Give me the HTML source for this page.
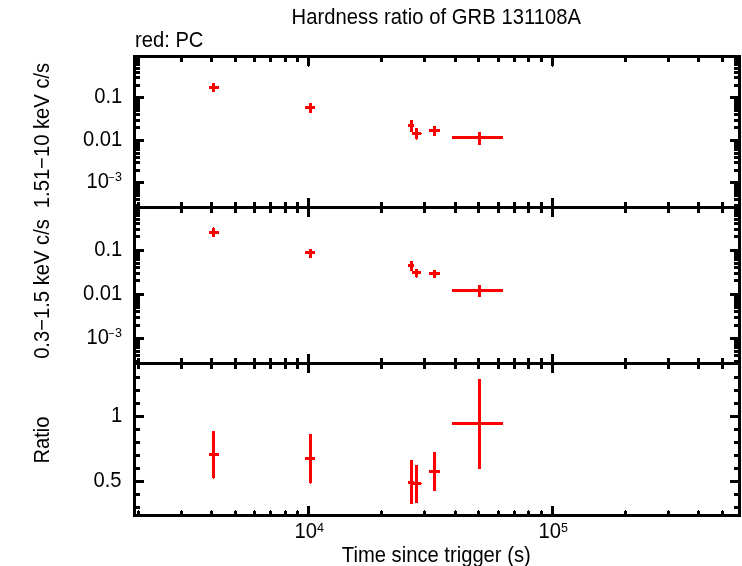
<!DOCTYPE html>
<html><head><meta charset="utf-8"><title>Hardness ratio of GRB 131108A</title>
<style>html,body{margin:0;padding:0;background:#fff}svg{display:block}text{font-family:"Liberation Sans",sans-serif;fill:#000}</style>
</head><body>
<svg width="742" height="566" viewBox="0 0 742 566">
<rect width="742" height="566" fill="#fff"/>
<g shape-rendering="crispEdges">
<rect x="133" y="55" width="608" height="3" fill="#000"/>
<rect x="133" y="514" width="608" height="3" fill="#000"/>
<rect x="133" y="55" width="3" height="462" fill="#000"/>
<rect x="738" y="55" width="3" height="462" fill="#000"/>
<rect x="133" y="206" width="608" height="3" fill="#000"/>
<rect x="133" y="362" width="608" height="3" fill="#000"/>
<rect x="137" y="58" width="3" height="4" fill="#000"/>
<rect x="137" y="511" width="3" height="3" fill="#000"/>
<rect x="138" y="510" width="1" height="1" fill="#000"/>
<rect x="137" y="202" width="3" height="11" fill="#000"/>
<rect x="137" y="358" width="3" height="11" fill="#000"/>
<rect x="180" y="58" width="3" height="4" fill="#000"/>
<rect x="180" y="511" width="3" height="3" fill="#000"/>
<rect x="181" y="510" width="1" height="1" fill="#000"/>
<rect x="180" y="202" width="3" height="11" fill="#000"/>
<rect x="180" y="358" width="3" height="11" fill="#000"/>
<rect x="210" y="58" width="3" height="4" fill="#000"/>
<rect x="210" y="511" width="3" height="3" fill="#000"/>
<rect x="211" y="510" width="1" height="1" fill="#000"/>
<rect x="210" y="202" width="3" height="11" fill="#000"/>
<rect x="210" y="358" width="3" height="11" fill="#000"/>
<rect x="234" y="58" width="3" height="4" fill="#000"/>
<rect x="234" y="511" width="3" height="3" fill="#000"/>
<rect x="235" y="510" width="1" height="1" fill="#000"/>
<rect x="234" y="202" width="3" height="11" fill="#000"/>
<rect x="234" y="358" width="3" height="11" fill="#000"/>
<rect x="253" y="58" width="3" height="4" fill="#000"/>
<rect x="253" y="511" width="3" height="3" fill="#000"/>
<rect x="254" y="510" width="1" height="1" fill="#000"/>
<rect x="253" y="202" width="3" height="11" fill="#000"/>
<rect x="253" y="358" width="3" height="11" fill="#000"/>
<rect x="269" y="58" width="3" height="4" fill="#000"/>
<rect x="269" y="511" width="3" height="3" fill="#000"/>
<rect x="270" y="510" width="1" height="1" fill="#000"/>
<rect x="269" y="202" width="3" height="11" fill="#000"/>
<rect x="269" y="358" width="3" height="11" fill="#000"/>
<rect x="284" y="58" width="3" height="4" fill="#000"/>
<rect x="284" y="511" width="3" height="3" fill="#000"/>
<rect x="285" y="510" width="1" height="1" fill="#000"/>
<rect x="284" y="202" width="3" height="11" fill="#000"/>
<rect x="284" y="358" width="3" height="11" fill="#000"/>
<rect x="296" y="58" width="3" height="4" fill="#000"/>
<rect x="296" y="511" width="3" height="3" fill="#000"/>
<rect x="297" y="510" width="1" height="1" fill="#000"/>
<rect x="296" y="202" width="3" height="11" fill="#000"/>
<rect x="296" y="358" width="3" height="11" fill="#000"/>
<rect x="307" y="58" width="3" height="8" fill="#000"/>
<rect x="308" y="66" width="1" height="1" fill="#000"/>
<rect x="307" y="506" width="3" height="8" fill="#000"/>
<rect x="307" y="198" width="3" height="19" fill="#000"/>
<rect x="307" y="354" width="3" height="19" fill="#000"/>
<rect x="380" y="58" width="3" height="4" fill="#000"/>
<rect x="380" y="511" width="3" height="3" fill="#000"/>
<rect x="381" y="510" width="1" height="1" fill="#000"/>
<rect x="380" y="202" width="3" height="11" fill="#000"/>
<rect x="380" y="358" width="3" height="11" fill="#000"/>
<rect x="423" y="58" width="3" height="4" fill="#000"/>
<rect x="423" y="511" width="3" height="3" fill="#000"/>
<rect x="424" y="510" width="1" height="1" fill="#000"/>
<rect x="423" y="202" width="3" height="11" fill="#000"/>
<rect x="423" y="358" width="3" height="11" fill="#000"/>
<rect x="454" y="58" width="3" height="4" fill="#000"/>
<rect x="454" y="511" width="3" height="3" fill="#000"/>
<rect x="455" y="510" width="1" height="1" fill="#000"/>
<rect x="454" y="202" width="3" height="11" fill="#000"/>
<rect x="454" y="358" width="3" height="11" fill="#000"/>
<rect x="477" y="58" width="3" height="4" fill="#000"/>
<rect x="477" y="511" width="3" height="3" fill="#000"/>
<rect x="478" y="510" width="1" height="1" fill="#000"/>
<rect x="477" y="202" width="3" height="11" fill="#000"/>
<rect x="477" y="358" width="3" height="11" fill="#000"/>
<rect x="497" y="58" width="3" height="4" fill="#000"/>
<rect x="497" y="511" width="3" height="3" fill="#000"/>
<rect x="498" y="510" width="1" height="1" fill="#000"/>
<rect x="497" y="202" width="3" height="11" fill="#000"/>
<rect x="497" y="358" width="3" height="11" fill="#000"/>
<rect x="513" y="58" width="3" height="4" fill="#000"/>
<rect x="513" y="511" width="3" height="3" fill="#000"/>
<rect x="514" y="510" width="1" height="1" fill="#000"/>
<rect x="513" y="202" width="3" height="11" fill="#000"/>
<rect x="513" y="358" width="3" height="11" fill="#000"/>
<rect x="527" y="58" width="3" height="4" fill="#000"/>
<rect x="527" y="511" width="3" height="3" fill="#000"/>
<rect x="528" y="510" width="1" height="1" fill="#000"/>
<rect x="527" y="202" width="3" height="11" fill="#000"/>
<rect x="527" y="358" width="3" height="11" fill="#000"/>
<rect x="540" y="58" width="3" height="4" fill="#000"/>
<rect x="540" y="511" width="3" height="3" fill="#000"/>
<rect x="541" y="510" width="1" height="1" fill="#000"/>
<rect x="540" y="202" width="3" height="11" fill="#000"/>
<rect x="540" y="358" width="3" height="11" fill="#000"/>
<rect x="551" y="58" width="3" height="8" fill="#000"/>
<rect x="552" y="66" width="1" height="1" fill="#000"/>
<rect x="551" y="506" width="3" height="8" fill="#000"/>
<rect x="551" y="198" width="3" height="19" fill="#000"/>
<rect x="551" y="354" width="3" height="19" fill="#000"/>
<rect x="624" y="58" width="3" height="4" fill="#000"/>
<rect x="624" y="511" width="3" height="3" fill="#000"/>
<rect x="625" y="510" width="1" height="1" fill="#000"/>
<rect x="624" y="202" width="3" height="11" fill="#000"/>
<rect x="624" y="358" width="3" height="11" fill="#000"/>
<rect x="667" y="58" width="3" height="4" fill="#000"/>
<rect x="667" y="511" width="3" height="3" fill="#000"/>
<rect x="668" y="510" width="1" height="1" fill="#000"/>
<rect x="667" y="202" width="3" height="11" fill="#000"/>
<rect x="667" y="358" width="3" height="11" fill="#000"/>
<rect x="697" y="58" width="3" height="4" fill="#000"/>
<rect x="697" y="511" width="3" height="3" fill="#000"/>
<rect x="698" y="510" width="1" height="1" fill="#000"/>
<rect x="697" y="202" width="3" height="11" fill="#000"/>
<rect x="697" y="358" width="3" height="11" fill="#000"/>
<rect x="721" y="58" width="3" height="4" fill="#000"/>
<rect x="721" y="511" width="3" height="3" fill="#000"/>
<rect x="722" y="510" width="1" height="1" fill="#000"/>
<rect x="721" y="202" width="3" height="11" fill="#000"/>
<rect x="721" y="358" width="3" height="11" fill="#000"/>
<rect x="136" y="204" width="4" height="3" fill="#000"/>
<rect x="734" y="204" width="4" height="3" fill="#000"/>
<rect x="136" y="198" width="4" height="3" fill="#000"/>
<rect x="734" y="198" width="4" height="3" fill="#000"/>
<rect x="136" y="194" width="4" height="3" fill="#000"/>
<rect x="734" y="194" width="4" height="3" fill="#000"/>
<rect x="136" y="191" width="4" height="3" fill="#000"/>
<rect x="734" y="191" width="4" height="3" fill="#000"/>
<rect x="136" y="188" width="4" height="3" fill="#000"/>
<rect x="734" y="188" width="4" height="3" fill="#000"/>
<rect x="136" y="186" width="4" height="3" fill="#000"/>
<rect x="734" y="186" width="4" height="3" fill="#000"/>
<rect x="136" y="183" width="4" height="3" fill="#000"/>
<rect x="734" y="183" width="4" height="3" fill="#000"/>
<rect x="136" y="181" width="8" height="3" fill="#000"/>
<rect x="730" y="181" width="8" height="3" fill="#000"/>
<rect x="136" y="169" width="4" height="3" fill="#000"/>
<rect x="734" y="169" width="4" height="3" fill="#000"/>
<rect x="136" y="161" width="4" height="3" fill="#000"/>
<rect x="734" y="161" width="4" height="3" fill="#000"/>
<rect x="136" y="156" width="4" height="3" fill="#000"/>
<rect x="734" y="156" width="4" height="3" fill="#000"/>
<rect x="136" y="152" width="4" height="3" fill="#000"/>
<rect x="734" y="152" width="4" height="3" fill="#000"/>
<rect x="136" y="148" width="4" height="3" fill="#000"/>
<rect x="734" y="148" width="4" height="3" fill="#000"/>
<rect x="136" y="145" width="4" height="3" fill="#000"/>
<rect x="734" y="145" width="4" height="3" fill="#000"/>
<rect x="136" y="143" width="4" height="3" fill="#000"/>
<rect x="734" y="143" width="4" height="3" fill="#000"/>
<rect x="136" y="141" width="4" height="3" fill="#000"/>
<rect x="734" y="141" width="4" height="3" fill="#000"/>
<rect x="136" y="139" width="8" height="3" fill="#000"/>
<rect x="730" y="139" width="8" height="3" fill="#000"/>
<rect x="136" y="126" width="4" height="3" fill="#000"/>
<rect x="734" y="126" width="4" height="3" fill="#000"/>
<rect x="136" y="119" width="4" height="3" fill="#000"/>
<rect x="734" y="119" width="4" height="3" fill="#000"/>
<rect x="136" y="113" width="4" height="3" fill="#000"/>
<rect x="734" y="113" width="4" height="3" fill="#000"/>
<rect x="136" y="109" width="4" height="3" fill="#000"/>
<rect x="734" y="109" width="4" height="3" fill="#000"/>
<rect x="136" y="106" width="4" height="3" fill="#000"/>
<rect x="734" y="106" width="4" height="3" fill="#000"/>
<rect x="136" y="103" width="4" height="3" fill="#000"/>
<rect x="734" y="103" width="4" height="3" fill="#000"/>
<rect x="136" y="101" width="4" height="3" fill="#000"/>
<rect x="734" y="101" width="4" height="3" fill="#000"/>
<rect x="136" y="98" width="4" height="3" fill="#000"/>
<rect x="734" y="98" width="4" height="3" fill="#000"/>
<rect x="136" y="96" width="8" height="3" fill="#000"/>
<rect x="730" y="96" width="8" height="3" fill="#000"/>
<rect x="136" y="84" width="4" height="3" fill="#000"/>
<rect x="734" y="84" width="4" height="3" fill="#000"/>
<rect x="136" y="76" width="4" height="3" fill="#000"/>
<rect x="734" y="76" width="4" height="3" fill="#000"/>
<rect x="136" y="71" width="4" height="3" fill="#000"/>
<rect x="734" y="71" width="4" height="3" fill="#000"/>
<rect x="136" y="67" width="4" height="3" fill="#000"/>
<rect x="734" y="67" width="4" height="3" fill="#000"/>
<rect x="136" y="63" width="4" height="3" fill="#000"/>
<rect x="734" y="63" width="4" height="3" fill="#000"/>
<rect x="136" y="60" width="4" height="3" fill="#000"/>
<rect x="734" y="60" width="4" height="3" fill="#000"/>
<rect x="136" y="58" width="4" height="3" fill="#000"/>
<rect x="734" y="58" width="4" height="3" fill="#000"/>
<rect x="136" y="360" width="4" height="3" fill="#000"/>
<rect x="734" y="360" width="4" height="3" fill="#000"/>
<rect x="136" y="354" width="4" height="3" fill="#000"/>
<rect x="734" y="354" width="4" height="3" fill="#000"/>
<rect x="136" y="350" width="4" height="3" fill="#000"/>
<rect x="734" y="350" width="4" height="3" fill="#000"/>
<rect x="136" y="346" width="4" height="3" fill="#000"/>
<rect x="734" y="346" width="4" height="3" fill="#000"/>
<rect x="136" y="344" width="4" height="3" fill="#000"/>
<rect x="734" y="344" width="4" height="3" fill="#000"/>
<rect x="136" y="341" width="4" height="3" fill="#000"/>
<rect x="734" y="341" width="4" height="3" fill="#000"/>
<rect x="136" y="339" width="4" height="3" fill="#000"/>
<rect x="734" y="339" width="4" height="3" fill="#000"/>
<rect x="136" y="337" width="8" height="3" fill="#000"/>
<rect x="730" y="337" width="8" height="3" fill="#000"/>
<rect x="136" y="324" width="4" height="3" fill="#000"/>
<rect x="734" y="324" width="4" height="3" fill="#000"/>
<rect x="136" y="316" width="4" height="3" fill="#000"/>
<rect x="734" y="316" width="4" height="3" fill="#000"/>
<rect x="136" y="310" width="4" height="3" fill="#000"/>
<rect x="734" y="310" width="4" height="3" fill="#000"/>
<rect x="136" y="306" width="4" height="3" fill="#000"/>
<rect x="734" y="306" width="4" height="3" fill="#000"/>
<rect x="136" y="303" width="4" height="3" fill="#000"/>
<rect x="734" y="303" width="4" height="3" fill="#000"/>
<rect x="136" y="300" width="4" height="3" fill="#000"/>
<rect x="734" y="300" width="4" height="3" fill="#000"/>
<rect x="136" y="297" width="4" height="3" fill="#000"/>
<rect x="734" y="297" width="4" height="3" fill="#000"/>
<rect x="136" y="295" width="4" height="3" fill="#000"/>
<rect x="734" y="295" width="4" height="3" fill="#000"/>
<rect x="136" y="293" width="8" height="3" fill="#000"/>
<rect x="730" y="293" width="8" height="3" fill="#000"/>
<rect x="136" y="279" width="4" height="3" fill="#000"/>
<rect x="734" y="279" width="4" height="3" fill="#000"/>
<rect x="136" y="272" width="4" height="3" fill="#000"/>
<rect x="734" y="272" width="4" height="3" fill="#000"/>
<rect x="136" y="266" width="4" height="3" fill="#000"/>
<rect x="734" y="266" width="4" height="3" fill="#000"/>
<rect x="136" y="262" width="4" height="3" fill="#000"/>
<rect x="734" y="262" width="4" height="3" fill="#000"/>
<rect x="136" y="258" width="4" height="3" fill="#000"/>
<rect x="734" y="258" width="4" height="3" fill="#000"/>
<rect x="136" y="255" width="4" height="3" fill="#000"/>
<rect x="734" y="255" width="4" height="3" fill="#000"/>
<rect x="136" y="253" width="4" height="3" fill="#000"/>
<rect x="734" y="253" width="4" height="3" fill="#000"/>
<rect x="136" y="251" width="4" height="3" fill="#000"/>
<rect x="734" y="251" width="4" height="3" fill="#000"/>
<rect x="136" y="249" width="8" height="3" fill="#000"/>
<rect x="730" y="249" width="8" height="3" fill="#000"/>
<rect x="136" y="235" width="4" height="3" fill="#000"/>
<rect x="734" y="235" width="4" height="3" fill="#000"/>
<rect x="136" y="228" width="4" height="3" fill="#000"/>
<rect x="734" y="228" width="4" height="3" fill="#000"/>
<rect x="136" y="222" width="4" height="3" fill="#000"/>
<rect x="734" y="222" width="4" height="3" fill="#000"/>
<rect x="136" y="218" width="4" height="3" fill="#000"/>
<rect x="734" y="218" width="4" height="3" fill="#000"/>
<rect x="136" y="214" width="4" height="3" fill="#000"/>
<rect x="734" y="214" width="4" height="3" fill="#000"/>
<rect x="136" y="211" width="4" height="3" fill="#000"/>
<rect x="734" y="211" width="4" height="3" fill="#000"/>
<rect x="136" y="209" width="4" height="3" fill="#000"/>
<rect x="734" y="209" width="4" height="3" fill="#000"/>
<rect x="136" y="506" width="4" height="3" fill="#000"/>
<rect x="734" y="506" width="4" height="3" fill="#000"/>
<rect x="136" y="493" width="4" height="3" fill="#000"/>
<rect x="734" y="493" width="4" height="3" fill="#000"/>
<rect x="136" y="480" width="8" height="3" fill="#000"/>
<rect x="730" y="480" width="8" height="3" fill="#000"/>
<rect x="136" y="467" width="4" height="3" fill="#000"/>
<rect x="734" y="467" width="4" height="3" fill="#000"/>
<rect x="136" y="454" width="4" height="3" fill="#000"/>
<rect x="734" y="454" width="4" height="3" fill="#000"/>
<rect x="136" y="441" width="4" height="3" fill="#000"/>
<rect x="734" y="441" width="4" height="3" fill="#000"/>
<rect x="136" y="428" width="4" height="3" fill="#000"/>
<rect x="734" y="428" width="4" height="3" fill="#000"/>
<rect x="136" y="415" width="8" height="3" fill="#000"/>
<rect x="730" y="415" width="8" height="3" fill="#000"/>
<rect x="136" y="402" width="4" height="3" fill="#000"/>
<rect x="734" y="402" width="4" height="3" fill="#000"/>
<rect x="136" y="389" width="4" height="3" fill="#000"/>
<rect x="734" y="389" width="4" height="3" fill="#000"/>
<rect x="136" y="376" width="4" height="3" fill="#000"/>
<rect x="734" y="376" width="4" height="3" fill="#000"/>
<rect x="209" y="86" width="10" height="3" fill="#f00"/>
<rect x="212" y="83" width="3" height="9" fill="#f00"/>
<rect x="305" y="106" width="10" height="3" fill="#f00"/>
<rect x="309" y="103" width="3" height="10" fill="#f00"/>
<rect x="408" y="124" width="6" height="3" fill="#f00"/>
<rect x="410" y="120" width="3" height="12" fill="#f00"/>
<rect x="412" y="132" width="9" height="3" fill="#f00"/>
<rect x="415" y="128" width="3" height="11" fill="#f00"/>
<rect x="429" y="129" width="11" height="3" fill="#f00"/>
<rect x="433" y="126" width="3" height="10" fill="#f00"/>
<rect x="452" y="136" width="51" height="3" fill="#f00"/>
<rect x="478" y="132" width="3" height="13" fill="#f00"/>
<rect x="209" y="231" width="10" height="3" fill="#f00"/>
<rect x="212" y="228" width="3" height="9" fill="#f00"/>
<rect x="305" y="251" width="10" height="3" fill="#f00"/>
<rect x="309" y="249" width="3" height="9" fill="#f00"/>
<rect x="408" y="264" width="6" height="3" fill="#f00"/>
<rect x="410" y="261" width="3" height="10" fill="#f00"/>
<rect x="412" y="271" width="9" height="3" fill="#f00"/>
<rect x="415" y="269" width="3" height="8" fill="#f00"/>
<rect x="429" y="272" width="11" height="3" fill="#f00"/>
<rect x="433" y="270" width="3" height="8" fill="#f00"/>
<rect x="452" y="289" width="51" height="3" fill="#f00"/>
<rect x="478" y="285" width="3" height="12" fill="#f00"/>
<rect x="209" y="453" width="10" height="3" fill="#f00"/>
<rect x="212" y="431" width="3" height="47" fill="#f00"/>
<rect x="305" y="457" width="10" height="3" fill="#f00"/>
<rect x="309" y="434" width="3" height="49" fill="#f00"/>
<rect x="408" y="481" width="6" height="3" fill="#f00"/>
<rect x="410" y="460" width="3" height="44" fill="#f00"/>
<rect x="412" y="482" width="9" height="3" fill="#f00"/>
<rect x="415" y="465" width="3" height="38" fill="#f00"/>
<rect x="429" y="470" width="11" height="3" fill="#f00"/>
<rect x="433" y="452" width="3" height="39" fill="#f00"/>
<rect x="452" y="422" width="51" height="3" fill="#f00"/>
<rect x="478" y="379" width="3" height="90" fill="#f00"/>
<rect x="213" y="478" width="1" height="1" fill="#f00"/>
<rect x="310" y="483" width="1" height="1" fill="#f00"/>
<rect x="416" y="139" width="1" height="1" fill="#f00"/>
<rect x="213" y="227" width="1" height="1" fill="#f00"/>
<rect x="416" y="277" width="1" height="1" fill="#f00"/>
<rect x="421" y="133" width="1" height="1" fill="#f00"/>
<rect x="421" y="483" width="1" height="1" fill="#f00"/>
</g>
<g>
<text transform="translate(436.3,24) scale(1,1.05)" text-anchor="middle" font-size="20.2" letter-spacing="0.05">Hardness ratio of GRB 131108A</text>
<text transform="translate(135,47) scale(1,1.05)" text-anchor="start" font-size="20.2">red: PC</text>
<text transform="translate(436.3,562) scale(1,1.05)" text-anchor="middle" font-size="20.2">Time since trigger (s)</text>
<text transform="translate(122.3,103) scale(1,1.05)" text-anchor="end" font-size="20.2">0.1</text>
<text transform="translate(122.3,146) scale(1,1.05)" text-anchor="end" font-size="20.2">0.01</text>
<text transform="translate(122.3,256) scale(1,1.05)" text-anchor="end" font-size="20.2">0.1</text>
<text transform="translate(122.3,300) scale(1,1.05)" text-anchor="end" font-size="20.2">0.01</text>
<text transform="translate(122.3,422) scale(1,1.05)" text-anchor="end" font-size="20.2">1</text>
<text transform="translate(121.5,487) scale(1,1.05)" text-anchor="end" font-size="20.2">0.5</text>
<text transform="translate(86.5,188) scale(1,1.05)" text-anchor="start" font-size="20.2">10<tspan font-size="11" dy="-6.6" dx="-0.8">−</tspan><tspan font-size="12.5" dy="0.2" dx="0.3">3</tspan></text>
<text transform="translate(86.5,344) scale(1,1.05)" text-anchor="start" font-size="20.2">10<tspan font-size="11" dy="-6.6" dx="-0.8">−</tspan><tspan font-size="12.5" dy="0.2" dx="0.3">3</tspan></text>
<text transform="translate(294.5,538) scale(1,1.05)" text-anchor="start" font-size="20.2">10<tspan font-size="12.5" dy="-5.6">4</tspan></text>
<text transform="translate(538.5,538) scale(1,1.05)" text-anchor="start" font-size="20.2">10<tspan font-size="12.5" dy="-5.6">5</tspan></text>
<text transform="translate(49,135.5) rotate(-90) scale(1,1.05)" text-anchor="middle" font-size="20.2">1.51−10 keV c/s</text>
<text transform="translate(49,289) rotate(-90) scale(1,1.05)" text-anchor="middle" font-size="20.2">0.3−1.5 keV c/s</text>
<text transform="translate(49,440) rotate(-90) scale(1,1.05)" text-anchor="middle" font-size="20.2">Ratio</text>
</g>
</svg>
</body></html>
